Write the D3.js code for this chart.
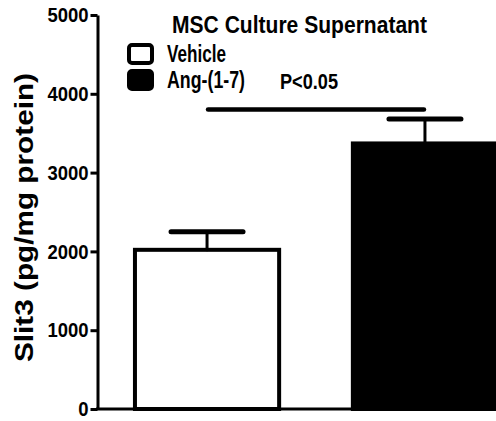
<!DOCTYPE html>
<html>
<head>
<meta charset="utf-8">
<script src="https://cdn.jsdelivr.net/npm/d3@7"></script>
<style>
  html, body { margin: 0; padding: 0; background: #fff; overflow: hidden; }
  svg { display: block; }
  text { font-family: Arial, "Liberation Sans", sans-serif; font-weight: bold; fill: #000; }
</style>
</head>
<body>
<svg id="chart" width="496" height="421"></svg>
<script>
// Slit3 in MSC culture supernatant, mean ± SEM
const groups = ["Vehicle", "Ang-(1-7)"];
const means = [2020, 3370];
const sems = [230, 310];
const yTicks = [0, 1000, 2000, 3000, 4000, 5000];
const titleText = "MSC Culture Supernatant";
const yLabel = "Slit3 (pg/mg protein)";
const sigLabel = "P<0.05";
const sigLevel = 3800;

const svg = d3.select("#chart");

const y = d3.scaleLinear().domain([0, 5000]).range([409, 15]);
const x = d3.scaleBand().domain(groups)
  .range([97, 535]).paddingInner(0.32).paddingOuter(0.165);
const fills = ["#fff", "#000"];

// bars
svg.append("g").selectAll("rect").data(groups).join("rect")
  .attr("x", d => x(d) + 2)
  .attr("width", x.bandwidth() - 4)
  .attr("y", (d, i) => y(means[i]))
  .attr("height", (d, i) => y(0) - y(means[i]))
  .attr("fill", (d, i) => fills[i])
  .attr("stroke", "#000")
  .attr("stroke-width", 4);

// error bars (upper only)
const eb = svg.append("g").attr("stroke", "#000").attr("stroke-linecap", "round");
groups.forEach((g, i) => {
  const cx = x(g) + x.bandwidth() / 2;
  eb.append("line")
    .attr("x1", cx).attr("x2", cx)
    .attr("y1", y(means[i])).attr("y2", y(means[i] + sems[i]))
    .attr("stroke-width", 3);
  eb.append("line")
    .attr("x1", cx - 36).attr("x2", cx + 36)
    .attr("y1", y(means[i] + sems[i])).attr("y2", y(means[i] + sems[i]))
    .attr("stroke-width", 5);
});

// significance bar
svg.append("line")
  .attr("x1", x(groups[0]) + x.bandwidth() / 2 + 1)
  .attr("x2", x(groups[1]) + x.bandwidth() / 2 - 1)
  .attr("y1", y(sigLevel)).attr("y2", y(sigLevel))
  .attr("stroke", "#000").attr("stroke-width", 4.5)
  .attr("stroke-linecap", "round");

// x axis baseline
svg.append("line")
  .attr("x1", 96).attr("x2", 496)
  .attr("y1", y(0)).attr("y2", y(0))
  .attr("stroke", "#000").attr("stroke-width", 3);

// y axis
const yAxis = svg.append("g")
  .attr("transform", "translate(97.5,0)")
  .call(d3.axisLeft(y).tickValues(yTicks).tickSize(7).tickSizeOuter(0).tickPadding(2)
    .tickFormat(d3.format("d")));
yAxis.select(".domain").attr("stroke-width", 3);
yAxis.selectAll(".tick line").attr("stroke-width", 3);
yAxis.selectAll(".tick text")
  .attr("font-size", 21)
  .attr("font-family", null)
  .attr("fill", "#000")
  .each(function () {
    const w = this.getComputedTextLength();
    d3.select(this).attr("textLength", w * 0.88).attr("lengthAdjust", "spacingAndGlyphs");
  });

// fitted text helper
function label(txt, xx, yy, size, len, anchor) {
  return svg.append("text")
    .attr("x", xx).attr("y", yy)
    .attr("font-size", size)
    .attr("text-anchor", anchor || "start")
    .attr("textLength", len)
    .attr("lengthAdjust", "spacingAndGlyphs")
    .text(txt);
}

label(titleText, 172, 33, 23, 255);
label(sigLabel, 280, 89, 22, 58);

// y label
svg.append("text")
  .attr("transform", "translate(33,217.5) rotate(-90)")
  .attr("text-anchor", "middle")
  .attr("font-size", 25)
  .attr("textLength", 289)
  .attr("lengthAdjust", "spacingAndGlyphs")
  .text(yLabel);

// legend
const legendRows = [{ y: 45 }, { y: 71 }];
const legLens = [59, 78];
groups.forEach((g, i) => {
  svg.append("rect")
    .attr("x", 129).attr("y", legendRows[i].y)
    .attr("width", 23).attr("height", 18)
    .attr("rx", 3)
    .attr("fill", fills[i])
    .attr("stroke", "#000").attr("stroke-width", 4);
  label(g, 167, legendRows[i].y + 17, 23, legLens[i]);
});
</script>
</body>
</html>
